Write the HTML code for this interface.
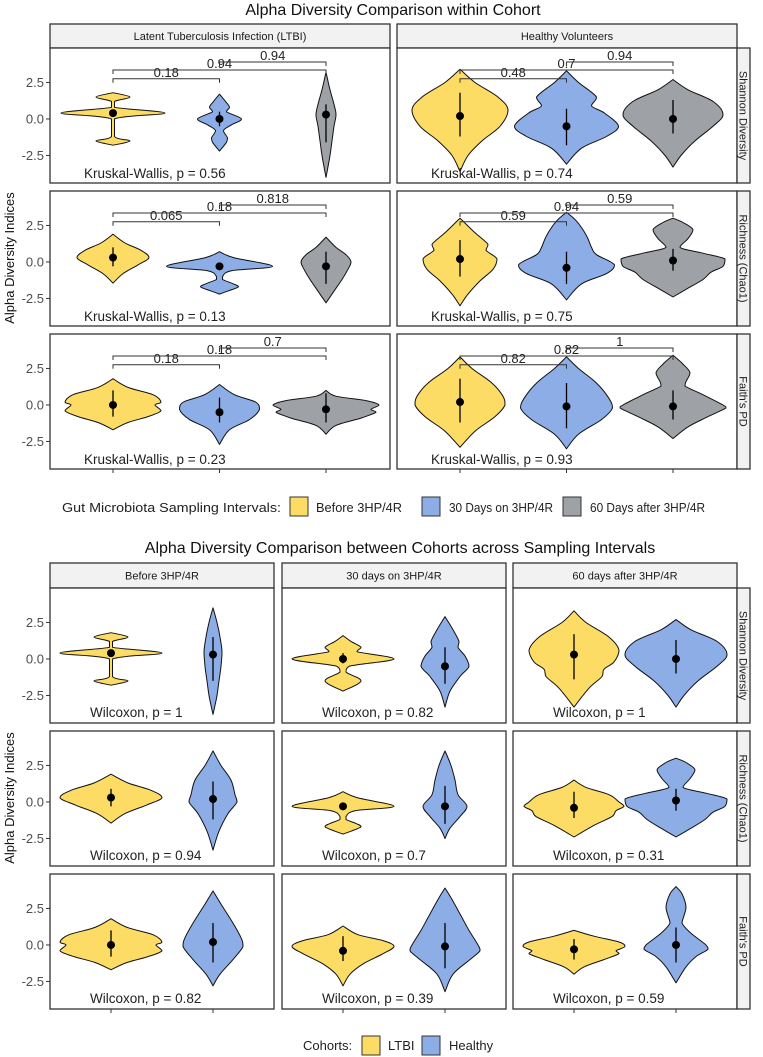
<!DOCTYPE html>
<html><head><meta charset="utf-8"><style>
body{margin:0;background:#fff}
svg{display:block;font-family:"Liberation Sans",sans-serif}
</style></head><body>
<svg id="fig" width="763" height="1057" viewBox="0 0 763 1057" xmlns="http://www.w3.org/2000/svg">
<text x="393" y="15" text-anchor="middle" font-size="16" fill="#111">Alpha Diversity Comparison within Cohort</text>
<text x="400" y="553" text-anchor="middle" font-size="16" fill="#111">Alpha Diversity Comparison between Cohorts across Sampling Intervals</text>
<text transform="translate(14,258) rotate(-90)" text-anchor="middle" font-size="13" fill="#111">Alpha Diversity Indices</text>
<text transform="translate(14,798) rotate(-90)" text-anchor="middle" font-size="13" fill="#111">Alpha Diversity Indices</text>
<g font-size="13" fill="#222">
<text x="62" y="512" textLength="219" lengthAdjust="spacingAndGlyphs">Gut Microbiota Sampling Intervals:</text>
<rect x="290" y="497" width="18" height="19" fill="#FDDC66" stroke="#333"/>
<text x="316" y="512" textLength="86" lengthAdjust="spacingAndGlyphs">Before 3HP/4R</text>
<rect x="422" y="497" width="18" height="19" fill="#8DADE6" stroke="#333"/>
<text x="449" y="512" textLength="104" lengthAdjust="spacingAndGlyphs">30 Days on 3HP/4R</text>
<rect x="563" y="497" width="18" height="19" fill="#9EA1A6" stroke="#333"/>
<text x="590" y="512" textLength="115" lengthAdjust="spacingAndGlyphs">60 Days after 3HP/4R</text>
</g>
<g font-size="13" fill="#222">
<text x="303" y="1050">Cohorts:</text>
<rect x="362" y="1036" width="18" height="19" fill="#FDDC66" stroke="#333"/>
<text x="388" y="1050">LTBI</text>
<rect x="422" y="1036" width="18" height="19" fill="#8DADE6" stroke="#333"/>
<text x="449" y="1050">Healthy</text>
</g>
</svg>
<script>
const metrics=["Shannon Diversity","Richness (Chao1)","Faith's PD"];
const topCohorts=["Latent Tuberculosis Infection (LTBI)","Healthy Volunteers"];
const botIntervals=["Before 3HP/4R","30 days on 3HP/4R","60 days after 3HP/4R"];
const yTicks=[2.5,0,-2.5];
const yTickLabels=["2.5","0.0","-2.5"];
const topKW=[["0.56","0.74"],["0.13","0.75"],["0.23","0.93"]];
const topPairP=[[["0.18","0.94","0.94"],["0.48","0.7","0.94"]],[["0.065","0.18","0.818"],["0.59","0.94","0.59"]],[["0.18","0.18","0.7"],["0.82","0.82","1"]]];
const bracketLevels=[2.75,3.35,3.9];
const botWilcox=[["1","0.82","1"],["0.94","0.7","0.31"],["0.82","0.39","0.59"]];
// profiles: [value, half-width density]
const topProfiles=[
[[[[1.8,0],[1.5,17],[1.2,1.5],[0.8,1.5],[0.4,52],[0.0,1.5],[-1.2,1.5],[-1.5,17],[-1.8,0]],
  [[1.7,0],[1.2,6],[0.8,10],[0.5,7],[0.0,22],[-0.4,12],[-0.8,4],[-1.3,8],[-1.6,7],[-2.2,0]],
  [[3.2,0],[2.0,4],[1.0,8],[0.3,10],[-0.5,8],[-1.5,6],[-2.5,4],[-4.0,0]]],
 [[[3.4,0],[2.5,15],[1.5,38],[0.6,48],[-0.5,40],[-1.5,22],[-2.5,8],[-3.6,0]],
  [[3.3,0],[2.5,12],[1.5,30],[0.9,25],[0.4,38],[-0.5,52],[-1.2,40],[-2.0,15],[-3.1,0]],
  [[2.7,0],[2.0,15],[1.2,40],[0.3,50],[-0.5,40],[-1.5,22],[-2.5,8],[-3.3,0]]]],
[[[[1.9,0],[1.3,12],[0.8,28],[0.3,36],[-0.2,25],[-0.8,10],[-1.45,0]],
  [[0.7,0],[0.3,14],[-0.3,53],[-0.6,12],[-1.0,3],[-1.2,3],[-1.5,14],[-1.7,19],[-2.0,8],[-2.2,0]],
  [[1.7,0],[1.0,10],[0.5,20],[0.0,25],[-0.5,22],[-1.2,16],[-2.0,8],[-2.8,0]]],
 [[[3.0,0],[2.0,15],[1.2,28],[0.8,26],[0.2,37],[-0.5,33],[-1.3,20],[-2.2,8],[-3.0,0]],
  [[3.4,0],[2.8,10],[1.8,20],[1.0,25],[0.5,30],[-0.2,48],[-0.8,40],[-1.5,15],[-2.6,0]],
  [[3.0,0],[2.7,10],[2.2,20],[1.6,15],[1.0,7],[0.6,30],[0.2,52],[-0.3,50],[-0.7,38],[-1.2,30],[-1.8,15],[-2.4,0]]]],
[[[[1.8,0],[1.2,15],[0.7,40],[0.2,48],[0.0,42],[-0.4,48],[-0.8,35],[-1.2,15],[-1.7,0]],
  [[1.4,0],[0.7,15],[0.2,36],[-0.3,40],[-1.0,30],[-1.7,10],[-2.7,0]],
  [[1.0,0],[0.6,10],[0.3,40],[0.0,53],[-0.3,45],[-0.5,50],[-0.9,35],[-1.4,10],[-2.0,0]]],
 [[[3.3,0],[2.5,12],[1.5,32],[0.6,43],[0.0,45],[-0.8,35],[-1.8,15],[-2.9,0]],
  [[3.3,0],[2.5,12],[1.5,30],[0.5,42],[-0.2,46],[-1.0,35],[-2.0,12],[-3.0,0]],
  [[3.4,0],[2.8,10],[2.2,17],[1.6,13],[1.3,12],[0.7,30],[0.0,50],[-0.2,53],[-0.8,35],[-1.5,15],[-2.3,0]]]]];
const topMedians=[[[0.4,0,0.3],[0.2,-0.5,0]],[[0.3,-0.3,-0.3],[0.2,-0.4,0.1]],[[0,-0.5,-0.3],[0.2,-0.1,-0.1]]];
const topRanges=[[[[0.4,0.4],[-0.5,0.5],[-1.6,1.0]],[[-1.2,1.8],[-1.8,0.7],[-1.0,1.3]]],
 [[[-0.3,1.0],[-0.5,-0.1],[-1.5,0.7]],[[-1.0,1.5],[-1.5,0.7],[-0.6,0.9]]],
 [[[-0.8,1.0],[-1.2,0.5],[-1.2,0.8]],[[-1.2,1.8],[-1.6,1.5],[-1.0,1.0]]]];
const botProfiles=[
[[[[1.8,0],[1.5,17],[1.2,1.5],[0.8,1.5],[0.4,51],[0.0,1.5],[-1.2,1.5],[-1.5,17],[-1.8,0]],
  [[3.5,0],[2.5,4],[1.5,7],[0.5,9],[-0.5,8],[-1.5,6],[-2.5,4],[-3.8,0]]],
 [[[1.6,0],[1.2,8],[0.8,18],[0.5,14],[0.0,51],[-0.5,6],[-0.9,3],[-1.5,18],[-2.2,0]],
  [[2.9,0],[2.0,8],[1.2,14],[0.8,13],[0.2,20],[-0.5,24],[-1.2,15],[-2.2,5],[-3.3,0]]],
 [[[3.3,0],[2.5,12],[1.5,35],[0.6,45],[-0.2,40],[-0.7,30],[-1.2,28],[-2.0,15],[-3.3,0]],
  [[2.7,0],[2.0,15],[1.2,41],[0.3,51],[-0.5,41],[-1.5,22],[-2.5,8],[-3.3,0]]]],
[[[[1.9,0],[1.3,17],[0.8,40],[0.3,51],[-0.2,36],[-0.8,14],[-1.45,0]],
  [[3.5,0],[2.5,8],[1.5,18],[0.5,22],[0.0,24],[-0.8,15],[-2.0,6],[-3.3,0]]],
 [[[0.7,0],[0.3,14],[-0.3,51],[-0.6,12],[-1.0,3],[-1.2,3],[-1.5,14],[-1.7,18],[-2.0,8],[-2.2,0]],
  [[3.5,0],[2.5,6],[1.5,10],[0.5,13],[-0.3,22],[-1.0,15],[-1.8,5],[-2.5,0]]],
 [[[1.5,0],[1.0,12],[0.5,35],[0.0,45],[-0.3,50],[-0.6,42],[-1.0,38],[-1.6,20],[-2.4,0]],
  [[3.0,0],[2.7,10],[2.2,19],[1.6,14],[1.0,7],[0.6,30],[0.2,51],[-0.3,49],[-0.7,37],[-1.2,29],[-1.8,15],[-2.4,0]]]],
[[[[1.8,0],[1.2,16],[0.7,42],[0.2,51],[0.0,45],[-0.4,51],[-0.8,37],[-1.2,16],[-1.7,0]],
  [[3.7,0],[2.8,8],[1.5,20],[0.5,28],[-0.1,30],[-1.0,20],[-2.0,7],[-2.8,0]]],
 [[[1.3,0],[0.7,15],[0.3,40],[-0.1,51],[-0.6,40],[-1.3,20],[-2.0,7],[-2.8,0]],
  [[3.9,0],[3.0,8],[2.0,16],[1.0,24],[0.0,33],[-0.4,35],[-1.0,25],[-2.0,8],[-3.2,0]]],
 [[[1.0,0],[0.6,20],[0.2,45],[-0.1,51],[-0.4,42],[-0.6,45],[-1.0,30],[-1.5,10],[-2.0,0]],
  [[4.0,0],[3.5,6],[2.6,10],[2.0,8],[1.5,6],[0.8,15],[0.0,30],[-0.3,32],[-0.8,20],[-1.5,10],[-2.6,0]]]]];
const botMedians=[[[0.4,0.3],[0,-0.5],[0.3,0]],[[0.3,0.2],[-0.3,-0.3],[-0.4,0.1]],[[0,0.2],[-0.4,-0.1],[-0.3,0]]];
const botRanges=[[[[0.4,0.4],[-1.5,1.5]],[[-0.3,0.4],[-1.7,0.8]],[[-1.4,1.7],[-1.0,1.3]]],
 [[[-0.3,0.9],[-1.2,1.4]],[[-0.5,-0.1],[-1.5,1.1]],[[-1.1,0.7],[-0.6,0.9]]],
 [[[-0.8,1.0],[-1.2,1.5]],[[-1.1,0.6],[-1.6,1.5]],[[-1.0,0.4],[-1.2,1.2]]]];
const topColors=["#FDDC66","#8DADE6","#9EA1A6"];
const botColors=["#FDDC66","#8DADE6"];

const NS="http://www.w3.org/2000/svg";
const svg=document.getElementById('fig');
const Y_MAX=4.86, PXU=14.6, ROW_H=135;
function yS(top,v){return top+(Y_MAX-v)*PXU;}
function mk(tag,attrs,parent,text){const e=document.createElementNS(NS,tag);for(const k in attrs)e.setAttribute(k,attrs[k]);if(text!==undefined)e.textContent=text;(parent||svg).appendChild(e);return e;}
let clipId=0;
function panelFrame(x0,x1,top,name){
  const g=mk('g',{});
  
  
  mk('rect',{x:x0,y:top,width:x1-x0,height:ROW_H,fill:'#fff'},g);
  const cid='c'+(clipId++);
  const cp=mk('clipPath',{id:cid},g);
  mk('rect',{x:x0,y:top,width:x1-x0,height:ROW_H},cp);
  const inner=mk('g',{'clip-path':'url(#'+cid+')'},g);
  return {g,inner};
}
function border(g,x0,x1,top){mk('rect',{x:x0,y:top,width:x1-x0,height:ROW_H,fill:'none',stroke:'#333','stroke-width':1.3},g);}
function clamp(v,a,b){const lo=Math.min(a,b),hi=Math.max(a,b);return Math.max(lo,Math.min(hi,v));}
function smoothSeg(pts){
  let d='';
  for(let i=0;i<pts.length-1;i++){
    const p0=pts[Math.max(0,i-1)],p1=pts[i],p2=pts[i+1],p3=pts[Math.min(pts.length-1,i+2)];
    const t=0.17;
    const c1=[clamp(p1[0]+(p2[0]-p0[0])*t,p1[0],p2[0]),p1[1]+(p2[1]-p0[1])*t];
    const c2=[clamp(p2[0]-(p3[0]-p1[0])*t,p1[0],p2[0]),p2[1]-(p3[1]-p1[1])*t];
    c1[1]=clamp(c1[1],p1[1],p2[1]);c2[1]=clamp(c2[1],p1[1],p2[1]);
    d+='C'+c1[0].toFixed(1)+','+c1[1].toFixed(1)+' '+c2[0].toFixed(1)+','+c2[1].toFixed(1)+' '+p2[0].toFixed(1)+','+p2[1].toFixed(1);
  }
  return d;
}
function violin(parent,cx,top,prof,color,med,rng,name){
  const right=prof.map(p=>[cx+p[1],yS(top,p[0])]);
  const left=prof.slice().reverse().map(p=>[cx-p[1],yS(top,p[0])]);
  const d='M'+right[0][0].toFixed(1)+','+right[0][1].toFixed(1)+smoothSeg(right)+smoothSeg(left)+'Z';
  const pth=mk('path',{d:d,fill:color,stroke:'#111','stroke-width':1,'stroke-linejoin':'round'},parent);
  
  
  const ln=mk('line',{x1:cx,x2:cx,y1:yS(top,rng[0]),y2:yS(top,rng[1]),stroke:'#000','stroke-width':1.3},parent);
  
  
  const dot=mk('circle',{cx:cx,cy:yS(top,med),r:4,fill:'#000'},parent);
  
  
}
function yAxis(top){
  yTicks.forEach((t,i)=>{
    const y=yS(top,t);
    mk('line',{x1:46,x2:50,y1:y,y2:y,stroke:'#333'});
    const lb=mk('text',{x:44,y:y+4.5,'text-anchor':'end','font-size':13,fill:'#4d4d4d'},svg,yTickLabels[i]);
    
    
  });
}
function strip(x0,x1,y0,y1,label,name){
  const r=mk('rect',{x:x0,y:y0,width:x1-x0,height:y1-y0,fill:'#f2f2f2',stroke:'#333','stroke-width':1.3});
  
  
  mk('text',{x:(x0+x1)/2,y:(y0+y1)/2+4,'text-anchor':'middle','font-size':11,fill:'#1a1a1a'},svg,label);
}
function rstrip(x0,x1,y0,label,name){
  const r=mk('rect',{x:x0,y:y0,width:x1-x0,height:ROW_H,fill:'#f2f2f2',stroke:'#333','stroke-width':1.3});
  
  
  const cx=(x0+x1)/2, cy=y0+ROW_H/2;
  mk('text',{transform:'translate('+(cx-4)+','+cy+') rotate(90)','text-anchor':'middle','font-size':11,fill:'#1a1a1a'},svg,label);
}

// ---- top figure ----
const topRows=[48,191,334];
const topPanels=[[50,390],[397,737]];
const topOffsets=[63,169.5,276];
topCohorts.forEach((c,ci)=>strip(topPanels[ci][0],topPanels[ci][1],24,48,c,'strip-'+(ci?'healthy':'ltbi')));
topRows.forEach((top,ri)=>{
  yAxis(top);
  topPanels.forEach((pp,ci)=>{
    const [x0,x1]=pp;
    const {g,inner}=panelFrame(x0,x1,top,'top-panel-r'+ri+'-c'+ci);
    const xs=topOffsets.map(o=>x0+o);
    topProfiles[ri][ci].forEach((prof,gi)=>violin(inner,xs[gi],top,prof,topColors[gi],topMedians[ri][ci][gi],topRanges[ri][ci][gi],'violin-r'+ri+'-c'+ci+'-g'+gi));
    const pairs=[[0,1],[0,2],[1,2]];
    pairs.forEach((pr,pi)=>{
      const y=yS(top,bracketLevels[pi]);
      const a=xs[pr[0]],b=xs[pr[1]];
      const br=mk('path',{d:'M'+a+','+(y+4)+'V'+y+'H'+b+'V'+(y+4),fill:'none',stroke:'#333','stroke-width':1},inner);
      
      
      const t=mk('text',{x:(a+b)/2,y:y-2,'text-anchor':'middle','font-size':13,fill:'#222'},inner,topPairP[ri][ci][pi]);
      
      
    });
    const kw=mk('text',{x:xs[0]-29,y:top+ROW_H-5,'font-size':13.5,fill:'#222'},inner,'Kruskal-Wallis, p = '+topKW[ri][ci]);
    
    
    border(g,x0,x1,top);
    if(ri===2) xs.forEach(x=>mk('line',{x1:x,x2:x,y1:top+ROW_H,y2:top+ROW_H+4,stroke:'#333'}));
  });
  rstrip(737,750,top,metrics[ri],'strip-metric-top-'+ri);
});

// ---- bottom figure ----
const botRows=[588,731,874];
const botPanels=[[50,274],[282,506],[513,737]];
const botOffsets=[61,163];
botIntervals.forEach((c,ci)=>strip(botPanels[ci][0],botPanels[ci][1],563,588,c,'strip-interval-'+ci));
botRows.forEach((top,ri)=>{
  yAxis(top);
  botPanels.forEach((pp,ci)=>{
    const [x0,x1]=pp;
    const {g,inner}=panelFrame(x0,x1,top,'bottom-panel-r'+ri+'-c'+ci);
    const xs=botOffsets.map(o=>x0+o);
    botProfiles[ri][ci].forEach((prof,gi)=>violin(inner,xs[gi],top,prof,botColors[gi],botMedians[ri][ci][gi],botRanges[ri][ci][gi],'cohort-violin-r'+ri+'-c'+ci+'-g'+gi));
    const w=mk('text',{x:xs[0]-21,y:top+ROW_H-6,'font-size':13.5,fill:'#222'},inner,'Wilcoxon, p = '+botWilcox[ri][ci]);
    
    
    border(g,x0,x1,top);
    if(ri===2) xs.forEach(x=>mk('line',{x1:x,x2:x,y1:top+ROW_H,y2:top+ROW_H+4,stroke:'#333'}));
  });
  rstrip(737,750,top,metrics[ri],'strip-metric-bottom-'+ri);
});
</script>
</body></html>
